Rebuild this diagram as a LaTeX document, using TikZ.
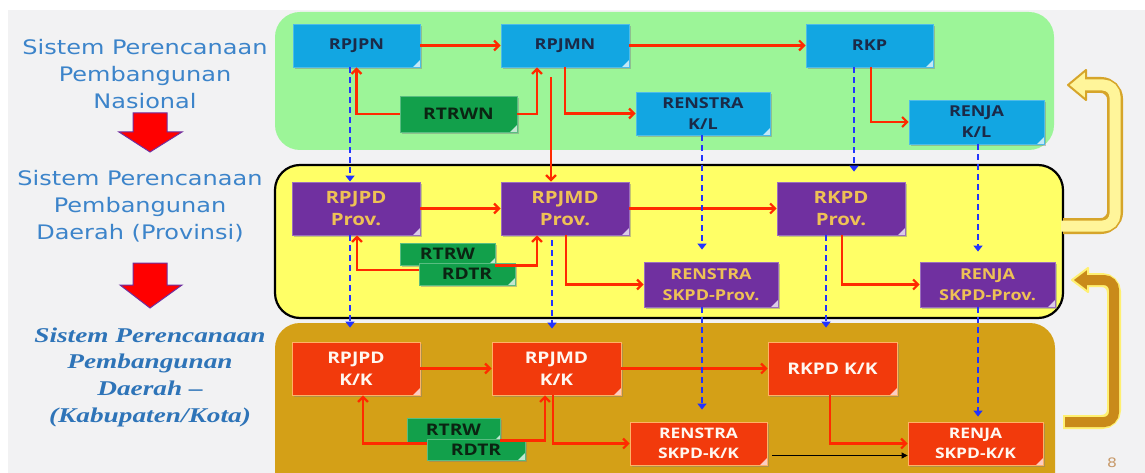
\documentclass[tikz,border=0pt]{standalone}
\usepackage{fontspec}
\usetikzlibrary{arrows.meta,shadows,calc}
\newfontfamily\labfont[FakeStretch=1.2]{DejaVu Sans}
\newfontfamily\boxfont[FakeStretch=1.2]{Open Sans}
\newfontfamily\serfont[FakeStretch=1.3]{Liberation Serif}
\definecolor{bggray}{HTML}{F2F2F3}
\definecolor{greenpanel}{HTML}{9CF598}
\definecolor{yellowpanel}{HTML}{FFFF66}
\definecolor{goldpanel}{HTML}{D4A017}
\definecolor{cblue}{HTML}{12A6E2}
\definecolor{cnavy}{HTML}{1B2A48}
\definecolor{cgreen}{HTML}{12A04B}
\definecolor{cgreentext}{HTML}{0B2412}
\definecolor{cpurple}{HTML}{7030A0}
\definecolor{cgoldtext}{HTML}{EEC155}
\definecolor{corange}{HTML}{F23A0C}
\definecolor{cred}{HTML}{FF2A00}
\definecolor{cdblue}{HTML}{2233FF}
\definecolor{clab}{HTML}{3C84CA}
\definecolor{clab2}{HTML}{2E74B8}
\definecolor{cpale}{HTML}{FFF59A}
\definecolor{cgoldedge}{HTML}{D6A52A}
\definecolor{cdgold}{HTML}{C98A1A}
\definecolor{cedgeyellow}{HTML}{FFF070}
\definecolor{ctan}{HTML}{C89A6A}
\begin{document}
\begin{tikzpicture}[x=1pt,y=-1pt,
  nbox/.style={rectangle, inner sep=1pt, align=center, line width=0.8pt,
    drop shadow={shadow xshift=1.5pt,shadow yshift=-2pt,opacity=0.45},
    path picture={\fill[white,opacity=0.75] (path picture bounding box.south east) -- ([xshift=-7pt]path picture bounding box.south east) -- ([yshift=7pt]path picture bounding box.south east) -- cycle;}},
  bluebox/.style={nbox, fill=cblue, draw=cblue!75!white, text=cnavy, font=\boxfont\bfseries\fontsize{15}{21}\selectfont},
  greenbox/.style={nbox, fill=cgreen, draw=cgreen!70!white, text=cgreentext, font=\boxfont\bfseries\fontsize{16}{18}\selectfont},
  purplebox/.style={nbox, fill=cpurple, draw=cpurple!70!white, text=cgoldtext, font=\boxfont\bfseries\fontsize{17}{22}\selectfont},
  purplebox2/.style={purplebox, font=\boxfont\bfseries\fontsize{15}{21}\selectfont},
  orangebox/.style={nbox, fill=corange, draw=orange!60!white, text=white!94!orange, font=\boxfont\bfseries\fontsize{16}{22}\selectfont},
  orangebox2/.style={orangebox, font=\boxfont\bfseries\fontsize{14.5}{20}\selectfont},
  redarr/.style={draw=cred, line width=2.2pt, -{Straight Barb[length=5pt,width=10pt]}},
  bluearr/.style={draw=cdblue, line width=2pt, dash pattern=on 6pt off 4pt, -{Triangle[length=6pt,width=9pt]}},
  lab/.style={align=center, text=clab, font=\labfont\fontsize{20}{27}\selectfont},
  lab2/.style={align=center, text=clab2, font=\serfont\bfseries\itshape\fontsize{21}{26.7}\selectfont},
  bigarr/.style={fill=red, draw=cpurple, line width=1pt, line join=miter}
]
\useasboundingbox (0,0) rectangle (1145,473);
\fill[white] (0,0) rectangle (1145,473);
\fill[bggray] (8,10) rectangle (1145,473);

% panels
\fill[greenpanel, rounded corners=25pt] (275,12) rectangle (1054,150);
\draw[fill=yellowpanel, draw=black, line width=2.2pt, rounded corners=25pt] (275,165) rectangle (1063,318);
\begin{scope}
\clip (0,0) rectangle (1145,473);
\fill[goldpanel, rounded corners=25pt] (275,323) rectangle (1055,500);
\end{scope}

% left labels
\node[lab] (L1) at (145,74) {Sistem Perencanaan\\Pembangunan\\Nasional};
\node[lab] (L2) at (140,206) {Sistem Perencanaan\\Pembangunan\\Daerah (Provinsi)};
\node[lab2] (L3) at (150,377) {Sistem Perencanaan\\Pembangunan\\Daerah –\\(Kabupaten/Kota)};
\path[bigarr] (133,113) -- (167,113) -- (167,132) -- (182,132) -- (150,152) -- (119,132) -- (133,132) -- cycle;
\path[bigarr] (133,263) -- (167,263) -- (167,285) -- (182,285) -- (150,308) -- (120,285) -- (133,285) -- cycle;

% row 1
\node[bluebox, minimum width=127pt, minimum height=43pt] (RPJPN) at (356.5,45.5) {RPJPN};
\node[bluebox, minimum width=128pt, minimum height=43pt] (RPJMN) at (565,45.5) {RPJMN};
\node[bluebox, minimum width=127pt, minimum height=43pt] (RKP) at (869.5,45.5) {RKP};
\node[greenbox, minimum width=117pt, minimum height=36pt] (RTRWN) at (458.5,114) {RTRWN};
\node[bluebox, minimum width=134pt, minimum height=43pt] (RENSTRAKL) at (703,113.5) {RENSTRA\\K/L};
\node[bluebox, minimum width=135pt, minimum height=44pt] (RENJAKL) at (976.5,122) {RENJA\\K/L};

% row 2
\node[purplebox, minimum width=128pt, minimum height=53pt] (RPJPDP) at (356,208.5) {RPJPD\\Prov.};
\node[purplebox, minimum width=128pt, minimum height=53pt] (RPJMDP) at (565,208.5) {RPJMD\\Prov.};
\node[purplebox, minimum width=128pt, minimum height=53pt] (RKPDP) at (841,208.5) {RKPD\\Prov.};
\node[greenbox, minimum width=95pt, minimum height=22pt] (RTRWP) at (447.5,254) {RTRW};
\node[greenbox, minimum width=96pt, minimum height=22pt] (RDTRP) at (467,274) {RDTR};
\node[purplebox2, minimum width=134pt, minimum height=45pt] (RENSTRAP) at (711,284.5) {RENSTRA\\SKPD-Prov.};
\node[purplebox2, minimum width=135pt, minimum height=45pt] (RENJAP) at (987.5,284.5) {RENJA\\SKPD-Prov.};

% row 3
\node[orangebox, minimum width=128pt, minimum height=53pt] (RPJPDK) at (356,368.5) {RPJPD\\K/K};
\node[orangebox, minimum width=129pt, minimum height=53pt] (RPJMDK) at (556.5,368.5) {RPJMD\\K/K};
\node[orangebox, minimum width=129pt, minimum height=53pt] (RKPDK) at (832.5,368.5) {RKPD K/K};
\node[greenbox, minimum width=93pt, minimum height=24pt] (RTRWK) at (453.5,430) {RTRW};
\node[greenbox, minimum width=98pt, minimum height=21pt] (RDTRK) at (476,449.5) {RDTR};
\node[orangebox2, minimum width=137pt, minimum height=43pt] (RENSTRAK) at (698.5,443.5) {RENSTRA\\SKPD-K/K};
\node[orangebox2, minimum width=135pt, minimum height=43pt] (RENJAK) at (975.5,443.5) {RENJA\\SKPD-K/K};

% red connectors row 1
\draw[redarr] (RPJPN.east) -- (RPJMN.west);
\draw[redarr] (RPJMN.east) -- (RKP.west);
\draw[redarr] (RTRWN.west) -| (RPJPN.south);
\draw[redarr] (RTRWN.east) -| ([xshift=-28pt]RPJMN.south);
\draw[redarr] (RPJMN.south) |- (RENSTRAKL.west);
\draw[redarr] ([xshift=-14pt,yshift=-10pt]RPJMN.south) -- ([xshift=-14pt]RPJMN.south |- RPJMDP.north);
\draw[redarr] ([xshift=1.5pt]RKP.south) |- (RENJAKL.west);

% red connectors row 2
\draw[redarr] (RPJPDP.east) -- (RPJMDP.west);
\draw[redarr] (RPJMDP.east) -- (RKPDP.west);
\draw[redarr] ([yshift=4pt]RDTRP.west) -| ([xshift=1pt]RPJPDP.south);
\draw[redarr] (RTRWP.south east) -| ([xshift=-28pt]RPJMDP.south);
\draw[redarr] ([xshift=1pt]RPJMDP.south) |- (RENSTRAP.west);
\draw[redarr] ([xshift=1pt]RKPDP.south) |- (RENJAP.west);

% red connectors row 3
\draw[redarr] (RPJPDK.east) -- (RPJMDK.west);
\draw[redarr] (RPJMDK.east) -- (RKPDK.west);
\draw[redarr] ([yshift=6pt]RDTRK.west) -| ([xshift=7pt]RPJPDK.south);
\draw[redarr] ([yshift=2pt]RTRWK.south east) -| ([xshift=-11.5pt]RPJMDK.south);
\draw[redarr] ([xshift=-3.5pt]RPJMDK.south) |- (RENSTRAK.west);
\draw[redarr] ([xshift=-2.5pt]RKPDK.south) |- (RENJAK.west);
\draw[black, line width=0.8pt, -{Triangle[length=6pt,width=6pt]}, shorten <=5pt] ([yshift=-12pt]RENSTRAK.east) -- ([yshift=-12pt]RENJAK.west);

% blue dashed connectors
\draw[bluearr] ([xshift=-6.5pt]RPJPN.south) -- ([xshift=-6.5pt]RPJPN.south |- RPJPDP.north);
\draw[bluearr, shorten >=12pt] ([xshift=-1pt]RENSTRAKL.south) -- ([xshift=-1pt]RENSTRAKL.south |- RENSTRAP.north);
\draw[bluearr, shorten >=10pt] ([xshift=-15.5pt]RKP.south) -- ([xshift=-15.5pt]RKP.south |- RKPDP.north);
\draw[bluearr, shorten >=10pt] ([xshift=1.5pt]RENJAKL.south) -- ([xshift=1.5pt]RENJAKL.south |- RENJAP.north);
\draw[bluearr, shorten >=14pt] ([xshift=-6pt]RPJPDP.south) -- ([xshift=-6pt]RPJPDP.south |- RPJPDK.north);
\draw[bluearr, shorten <=5pt, shorten >=13pt] ([xshift=-13pt]RPJMDP.south) -- ([xshift=-13pt]RPJMDP.south |- RPJMDK.north);
\draw[bluearr, shorten >=12pt] ([xshift=-9pt]RENSTRAP.south) -- ([xshift=-9pt]RENSTRAP.south |- RENSTRAK.north);
\draw[bluearr, shorten >=14pt] ([xshift=-15pt]RKPDP.south) -- ([xshift=-15pt]RKPDP.south |- RKPDK.north);
\draw[bluearr, shorten >=5pt] ([xshift=-9.5pt]RENJAP.south) -- ([xshift=-9.5pt]RENJAP.south |- RENJAK.north);

% right curved arrows
\draw[line width=16pt, cgoldedge, rounded corners=14pt] (1063,226) -- (1115,226) -- (1115,85) -- (1084,85);
\filldraw[fill=cpale, draw=cgoldedge, line width=2pt, line join=round] (1068,85) -- (1086,70) -- (1086,100) -- cycle;
\draw[line width=11pt, cpale, rounded corners=12pt] (1061,226) -- (1115,226) -- (1115,85) -- (1080,85);

\draw[line width=14pt, cedgeyellow, rounded corners=12pt] (1063,422) -- (1114,422) -- (1114,280) -- (1086,280);
\filldraw[fill=cdgold, draw=cedgeyellow, line width=2pt, line join=round] (1072,280) -- (1088,268) -- (1088,292) -- cycle;
\draw[line width=10pt, cdgold, rounded corners=10pt] (1065,422) -- (1114,422) -- (1114,280) -- (1084,280);

\node[font=\labfont\fontsize{13}{13}\selectfont, text=ctan] (pg) at (1112,463) {8};
\end{tikzpicture}
\end{document}
